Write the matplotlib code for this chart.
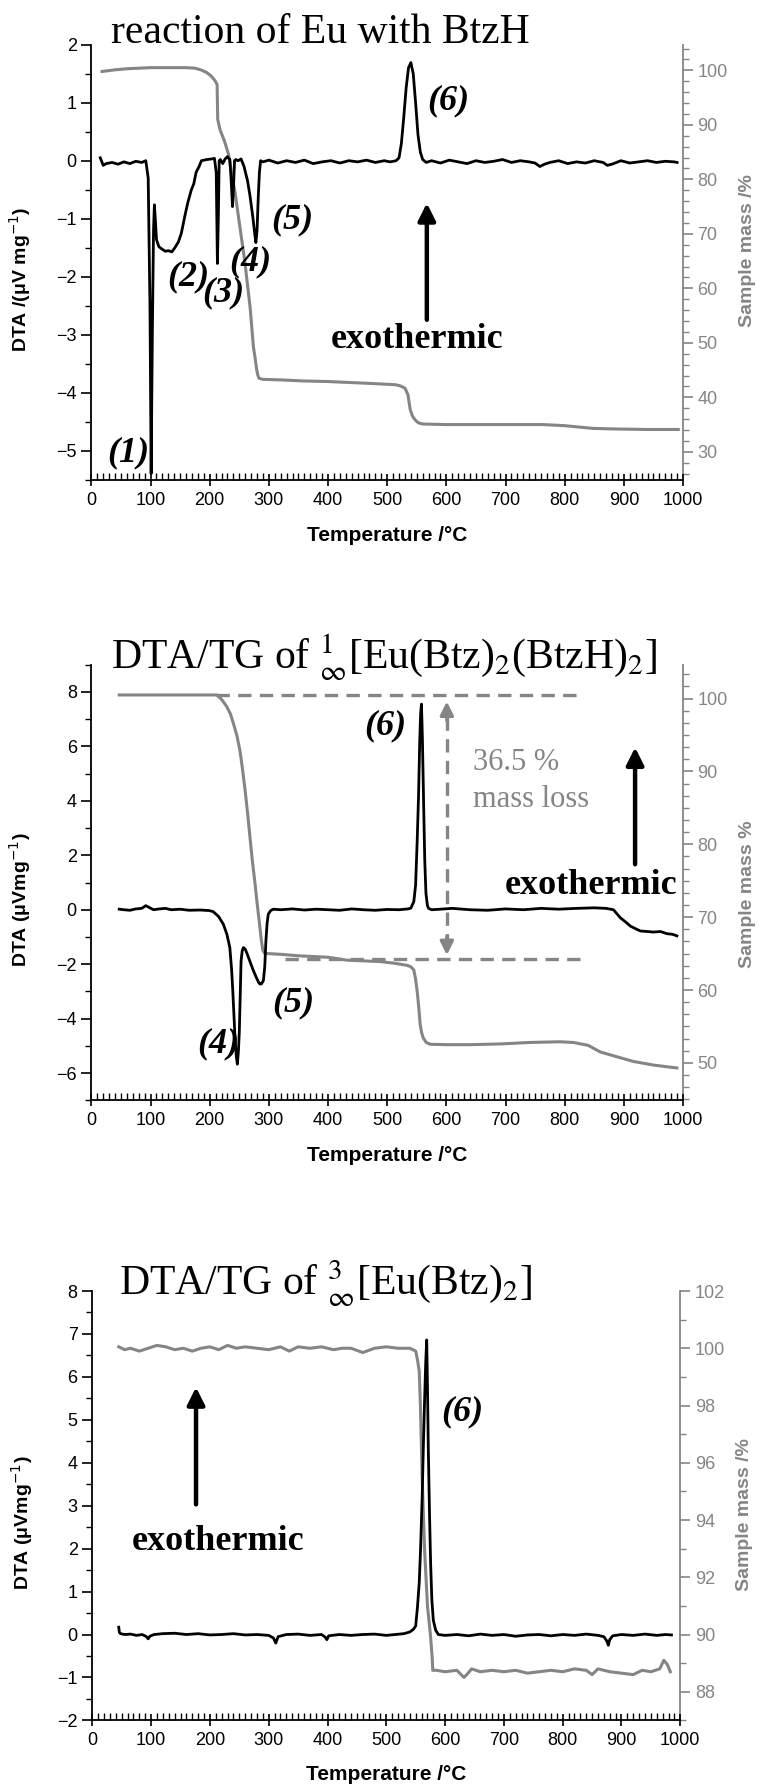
import matplotlib
matplotlib.use("Agg")
import matplotlib.pyplot as plt
from matplotlib.ticker import MultipleLocator, AutoMinorLocator

plt.rcParams['font.family'] = ['Liberation Sans', 'DejaVu Sans']
plt.rcParams['mathtext.fontset'] = 'stix'

GRAY = '#858585'
SERIF = 'Liberation Serif'

# ---------------- datos: panel 1 (reaction of Eu with BtzH) ----------------
p1_dta_x = [15, 20, 25, 35, 45, 55, 65, 75, 85, 92, 96, 99, 101, 103, 105, 106.5, 108, 110,
            114, 119, 125, 130, 136, 141, 147, 152, 158, 163, 169, 173, 177, 182, 186, 195,
            203, 208, 211, 213, 214.5, 216, 218, 222, 226, 230, 234, 236, 238.5, 240, 242,
            244, 248, 253, 258, 264, 268, 273, 276, 278, 280, 282, 284, 286, 290, 300, 315,
            330, 345, 360, 375, 390, 405, 420, 435, 450, 465, 480, 495, 505, 515, 520, 524,
            528, 532, 536, 540, 544, 548, 552, 556, 560, 566, 575, 590, 605, 620, 635, 650,
            665, 680, 695, 710, 725, 740, 750, 758, 766, 775, 790, 805, 820, 835, 850, 865,
            872, 880, 895, 910, 925, 940, 955, 970, 985, 990]
p1_dta_y = [0.05, -0.08, -0.05, -0.03, -0.06, -0.02, -0.05, -0.01, -0.03, 0.0, -0.3, -2.5,
            -5.39, -3.0, -1.2, -0.76, -1.0, -1.36, -1.48, -1.52, -1.56, -1.55, -1.57, -1.5,
            -1.4, -1.25, -0.95, -0.72, -0.5, -0.4, -0.2, -0.1, 0.0, 0.02, 0.03, 0.04, -0.2,
            -1.77, -1.0, 0.0, 0.02, -0.05, 0.03, 0.07, 0.02, -0.3, -0.79, -0.5, 0.0, 0.02,
            0.0, 0.03, -0.1, -0.35, -0.6, -0.98, -1.25, -1.41, -1.2, -0.64, -0.2, 0.0, -0.02,
            0.01, -0.04, 0.0, -0.03, 0.01, -0.05, -0.02, 0.0, -0.04, 0.0, -0.02, 0.01, -0.03,
            0.0, -0.02, 0.0, 0.05, 0.3, 0.75, 1.25, 1.6, 1.69, 1.5, 1.0, 0.45, 0.15, 0.02,
            -0.03, 0.0, -0.04, 0.01, -0.02, -0.05, 0.0, -0.03, -0.01, 0.02, -0.03, 0.0,
            -0.02, -0.04, -0.1, -0.06, -0.03, 0.0, -0.05, -0.02, -0.04, 0.0, -0.03, -0.08,
            -0.06, 0.0, -0.04, -0.02, 0.0, -0.03, -0.01, -0.02, -0.03]
p1_tg_x = [18, 40, 60, 80, 100, 120, 140, 160, 175, 185, 195, 203, 209, 212.5, 213.5, 217.5,
           225, 232, 237, 243, 248.5, 254, 259.7, 264, 268.2, 271, 273.8, 277, 279.5, 281.5,
           283.4, 290, 320, 360, 400, 462, 500, 515, 522, 530, 535, 539, 543, 547.6, 553,
           560.7, 600, 650, 700, 764, 800, 848, 882, 940, 992]
p1_tg_y = [99.8, 100.1, 100.3, 100.4, 100.5, 100.5, 100.5, 100.5, 100.4, 100.1, 99.6, 98.9,
           98.1, 97.4, 91.0, 89.1, 87.0, 84.5, 81.1, 77.5, 73.2, 69.0, 64.6, 60.5, 56.6, 53.0,
           49.3, 47.0, 45.0, 44.0, 43.5, 43.3, 43.2, 43.0, 42.9, 42.6, 42.4, 42.3, 42.1, 41.7,
           40.5, 37.7, 36.5, 35.8, 35.3, 35.1, 35.0, 35.0, 35.0, 35.0, 34.8, 34.3, 34.2, 34.1,
           34.1]

# ---------------- datos: panel 2 ----------------
p2_dta_x = [47, 55, 65, 75, 85, 92, 98, 105, 115, 125, 135, 150, 165, 183.7, 199, 206, 215,
            223, 229, 234, 237, 239, 241, 243, 245, 246.7, 248.5, 250, 251.5, 253, 255, 257,
            260, 262.6, 268, 273.9, 279, 283, 285, 287.5, 290.7, 293, 295, 297, 299, 303,
            307.6, 320, 340, 360, 380, 400, 420, 440, 460, 480, 500, 520, 535, 540, 545, 548,
            550.7, 553, 555, 556.5, 557.9, 559.5, 561.7, 563.5, 565.5, 568, 570, 575, 590,
            610, 640, 670, 700, 730, 760, 790, 820, 850, 870, 882.5, 893.8, 903, 911, 920,
            928, 940, 950, 962, 972.8, 982, 989.7]
p2_dta_y = [0.02, 0.0, -0.02, 0.03, 0.05, 0.15, 0.08, 0.0, 0.03, 0.05, 0.0, 0.02, -0.02,
            -0.01, -0.03, -0.07, -0.25, -0.53, -0.9, -1.39, -2.2, -2.98, -3.9, -4.81, -5.4,
            -5.67, -5.2, -4.5, -3.2, -1.88, -1.5, -1.39, -1.45, -1.58, -1.9, -2.24, -2.5,
            -2.68, -2.73, -2.72, -2.6, -2.1, -1.14, -0.5, -0.16, -0.03, 0.02, 0.0, 0.03,
            -0.01, 0.02, 0.0, -0.02, 0.03, 0.0, -0.02, 0.01, 0.0, 0.03, 0.06, 0.3, 0.9, 2.53,
            4.2, 6.2, 7.2, 7.55, 6.3, 3.75, 1.8, 0.6, 0.15, 0.05, 0.0, 0.02, 0.05, 0.0,
            -0.02, 0.03, 0.0, 0.05, 0.02, 0.05, 0.07, 0.05, 0.0, -0.29, -0.45, -0.6, -0.7,
            -0.78, -0.8, -0.82, -0.8, -0.88, -0.9, -0.96]
p2_tg_x = [47, 80, 120, 160, 199, 212, 220, 228.8, 235, 240, 246, 251, 255, 259.7, 264, 268,
           272, 276.6, 280, 284, 287, 289.6, 292, 295, 299, 320, 350, 375, 400, 431.7, 460,
           488, 510, 533, 540, 545, 548, 551, 553.5, 555.6, 558, 561, 566, 573, 601, 640,
           691, 740, 792.4, 815, 840, 860, 890, 916, 950, 989.7]
p2_tg_y = [100.5, 100.5, 100.5, 100.5, 100.5, 100.5, 99.9, 98.9, 97.9, 96.6, 94.9, 92.9,
           90.6, 87.5, 84.3, 81.0, 77.8, 74.6, 72.0, 69.2, 67.0, 65.5, 65.1, 65.0, 65.0,
           64.9, 64.7, 64.6, 64.5, 64.1, 64.0, 63.9, 63.7, 63.4, 63.2, 62.75, 61.5, 59.6,
           57.5, 55.4, 54.2, 53.4, 52.8, 52.55, 52.5, 52.5, 52.6, 52.8, 52.9, 52.8, 52.4,
           51.5, 50.8, 50.2, 49.7, 49.3]

# ---------------- datos: panel 3 ----------------
p3_dta_x = [45, 46, 48, 55, 65, 75, 85, 92, 95, 98, 105, 120, 140, 160, 180, 200, 220, 240,
            260, 280, 300, 308, 312, 316, 330, 350, 370, 390, 396, 399, 402, 420, 440, 460,
            480, 500, 515, 530, 540, 546, 550, 553, 556, 558.4, 561, 563, 565, 567, 568.7,
            570, 571.4, 573.5, 575.4, 577.5, 580, 584, 588.5, 600, 620, 640, 660, 680, 700,
            720, 740, 760, 780, 800, 820, 840, 860, 870, 875, 877.6, 880, 885, 900, 920, 940,
            960, 975, 985]
p3_dta_y = [0.17, 0.05, 0.02, 0.0, 0.01, -0.02, 0.0, -0.05, -0.1, -0.04, 0.0, 0.02, 0.03,
            0.0, 0.02, -0.01, 0.0, 0.02, -0.01, 0.0, -0.02, -0.08, -0.2, -0.05, 0.0, 0.01,
            -0.02, 0.0, -0.06, -0.12, -0.03, 0.0, -0.02, 0.0, 0.01, -0.02, 0.0, 0.02, 0.06,
            0.12, 0.2, 0.64, 1.2, 2.04, 3.2, 4.37, 5.4, 6.32, 6.86, 5.8, 4.37, 2.8, 1.65,
            0.8, 0.33, 0.1, 0.0, -0.02, 0.0, -0.03, 0.01, -0.02, 0.0, -0.04, -0.01, 0.0,
            -0.03, 0.0, -0.02, 0.01, -0.02, -0.05, -0.15, -0.25, -0.12, -0.03, 0.0, -0.02,
            0.01, -0.02, 0.0, -0.01]
p3_tg_x = [45, 55, 65, 80, 95, 110, 125, 140, 155, 170, 185, 200, 215, 230, 245, 260, 280,
           300, 320, 335, 350, 370, 390, 410, 425, 440, 460, 480, 500, 520, 540, 550, 553,
           556, 558, 561, 565, 570, 575, 578, 579, 585, 600, 620, 632, 637, 645, 660, 680,
           700, 720, 740, 760, 780, 800, 820, 840, 850, 860, 880, 900, 920, 935, 950, 965,
           972, 978, 983]
p3_tg_y = [100.05, 99.95, 100.0, 99.9, 100.0, 100.1, 100.05, 99.95, 100.0, 99.9, 100.0,
           100.05, 99.95, 100.1, 100.0, 100.05, 100.0, 99.95, 100.05, 99.9, 100.05, 100.0,
           100.05, 99.95, 100.0, 100.0, 99.85, 100.0, 100.05, 100.0, 100.0, 99.9, 99.6,
           99.2, 98.0, 95.5, 93.0, 91.0, 90.0, 89.2, 88.75, 88.75, 88.7, 88.75, 88.5, 88.6,
           88.8, 88.7, 88.75, 88.7, 88.75, 88.65, 88.7, 88.75, 88.7, 88.8, 88.75, 88.6,
           88.8, 88.7, 88.65, 88.6, 88.75, 88.7, 88.8, 89.1, 88.95, 88.7]

W, H = 762, 1789
fig = plt.figure(figsize=(W / 100, H / 100), dpi=100)


def make_panel(left, right, top, bottom, ylim, ymaj, ymin, rlim, rmaj, rminor_n,
               ylabel, rlabel, rlabel_y):
    ax = fig.add_axes([left / W, 1 - bottom / H, (right - left) / W, (bottom - top) / H])
    axr = ax.twinx()
    ax.set_zorder(axr.get_zorder() + 1)
    ax.patch.set_visible(False)

    ax.set_xlim(0, 1000)
    ax.set_ylim(*ylim)
    axr.set_ylim(*rlim)

    for s in ['top', 'right']:
        ax.spines[s].set_visible(False)
    for s in ['top', 'left', 'bottom']:
        axr.spines[s].set_visible(False)
    axr.spines['right'].set_color(GRAY)
    for s in ['left', 'bottom']:
        ax.spines[s].set_linewidth(1.3)
    axr.spines['right'].set_linewidth(1.3)

    ax.xaxis.set_major_locator(MultipleLocator(100))
    ax.xaxis.set_minor_locator(MultipleLocator(10))
    ax.yaxis.set_major_locator(MultipleLocator(ymaj))
    ax.yaxis.set_minor_locator(MultipleLocator(ymin))
    axr.yaxis.set_major_locator(MultipleLocator(rmaj))
    axr.yaxis.set_minor_locator(AutoMinorLocator(rminor_n))

    ax.tick_params(axis='x', which='major', direction='inout', length=9, width=1.2,
                   labelsize=13, pad=4)
    ax.tick_params(axis='x', which='minor', direction='in', length=5, width=1.0)
    ax.tick_params(axis='y', which='major', direction='out', length=7, width=1.2,
                   labelsize=13)
    ax.tick_params(axis='y', which='minor', direction='out', length=4, width=1.0)
    axr.tick_params(axis='y', which='major', direction='out', length=7, width=1.2,
                    labelsize=13, colors=GRAY)
    axr.tick_params(axis='y', which='minor', direction='out', length=4, width=1.0,
                    colors=GRAY)

    ax.set_xlabel('Temperature /°C', fontsize=15, fontweight='bold')
    ax.xaxis.set_label_coords(0.5, -0.105)
    ax.set_ylabel(ylabel, fontsize=14, fontweight='bold', math_fontfamily='dejavusans')
    ax.yaxis.set_label_coords(-0.098, 0.46)
    axr.set_ylabel(rlabel, fontsize=14, fontweight='bold', color=GRAY, rotation=90)
    axr.yaxis.set_label_coords(1.095, rlabel_y)
    return ax, axr


def peak_label(ax, x, y, s):
    ax.text(x, y, s, fontsize=26, family=SERIF, fontweight='bold', fontstyle='italic',
            ha='center', va='center', zorder=1)


def exo(ax, x_text, y_text, x_arrow, y_tail, y_head):
    ax.annotate('', xy=(x_arrow, y_head), xytext=(x_arrow, y_tail),
                arrowprops=dict(arrowstyle='-|>', color='black', lw=3.2, mutation_scale=26,
                                shrinkA=0, shrinkB=0))
    ax.text(x_text, y_text, 'exothermic', fontsize=26, family=SERIF, fontweight='bold',
            ha='left', va='baseline')


# ---------------- panel 1 ----------------
ax1, ax1r = make_panel(91.4, 683, 44.6, 480, (-5.5, 2), 1, 0.5, (24.83, 104.73), 10, 5,
                       'DTA /(μV mg$^{-1}$)', 'Sample mass /%', 0.528)
ax1r.plot(p1_tg_x, p1_tg_y, color=GRAY, lw=2.2)
ax1.plot(p1_dta_x, p1_dta_y, color='black', lw=2.0)
peak_label(ax1, 62, -5.04, '(1)')
peak_label(ax1, 164, -2.0, '(2)')
peak_label(ax1, 223, -2.28, '(3)')
peak_label(ax1, 268, -1.74, '(4)')
peak_label(ax1, 339, -1.02, '(5)')
peak_label(ax1, 603, 1.04, '(6)')
exo(ax1, 404, -3.23, 567, -2.74, -0.73)
fig.text(111 / W, 1 - 43 / H, 'reaction of Eu with BtzH', fontsize=30, family=SERIF,
         ha='left', va='baseline')

# ---------------- panel 2 ----------------
ax2, ax2r = make_panel(91.4, 683, 664.6, 1100.4, (-7, 9), 2, 1, (44.85, 104.67), 10, 6,
                       'DTA (μVmg$^{-1}$)', 'Sample mass %', 0.474)
ax2r.plot(p2_tg_x, p2_tg_y, color=GRAY, lw=2.2)
ax2.plot(p2_dta_x, p2_dta_y, color='black', lw=2.0)
ax2r.plot([211, 826], [100.5, 100.5], color=GRAY, lw=2.4, ls=(0, (4, 2.5)))
ax2r.plot([327, 826], [64.2, 64.2], color=GRAY, lw=2.4, ls=(0, (4, 2.5)))
ax2r.plot([600.8, 600.8], [97.5, 66.8], color=GRAY, lw=2.4, ls=(0, (4, 2.5)))
ax2r.annotate('', xy=(600.8, 99.6), xytext=(600.8, 97.0),
              arrowprops=dict(arrowstyle='-|>', color=GRAY, lw=2.4, mutation_scale=20,
                              shrinkA=0, shrinkB=0))
ax2r.annotate('', xy=(600.8, 64.8), xytext=(600.8, 67.4),
              arrowprops=dict(arrowstyle='-|>', color=GRAY, lw=2.4, mutation_scale=20,
                              shrinkA=0, shrinkB=0))
ax2r.text(644.7, 91.3, '36.5 %', fontsize=22, family=SERIF, color=GRAY,
          ha='left', va='center')
ax2r.text(644.7, 86.1, 'mass loss', fontsize=22, family=SERIF, color=GRAY,
          ha='left', va='center')
peak_label(ax2, 496.5, 6.75, '(6)')
peak_label(ax2, 341, -3.4, '(5)')
peak_label(ax2, 215, -4.93, '(4)')
exo(ax2, 699.4, 0.57, 919, 1.67, 5.96)
fig.text(111 / W, 1 - 670 / H,
         r'DTA/TG of $^{1}_{\infty}$[Eu(Btz)$_{2}$(BtzH)$_{2}$]',
         fontsize=30, family=SERIF, ha='left', va='baseline')

# ---------------- panel 3 ----------------
ax3, ax3r = make_panel(92.3, 680.3, 1291, 1720.4, (-2, 8), 1, 0.5, (87, 102), 2, 2,
                       'DTA (μVmg$^{-1}$)', 'Sample mass /%', 0.48)
ax3r.plot(p3_tg_x, p3_tg_y, color=GRAY, lw=2.2)
ax3.plot(p3_dta_x, p3_dta_y, color='black', lw=2.0)
peak_label(ax3, 629, 5.19, '(6)')
exo(ax3, 67, 1.96, 176.4, 3.03, 5.76)
fig.text(119 / W, 1 - 1296 / H, r'DTA/TG of $^{3}_{\infty}$[Eu(Btz)$_{2}$]',
         fontsize=30, family=SERIF, ha='left', va='baseline')

fig.savefig('out.png', dpi=100)
